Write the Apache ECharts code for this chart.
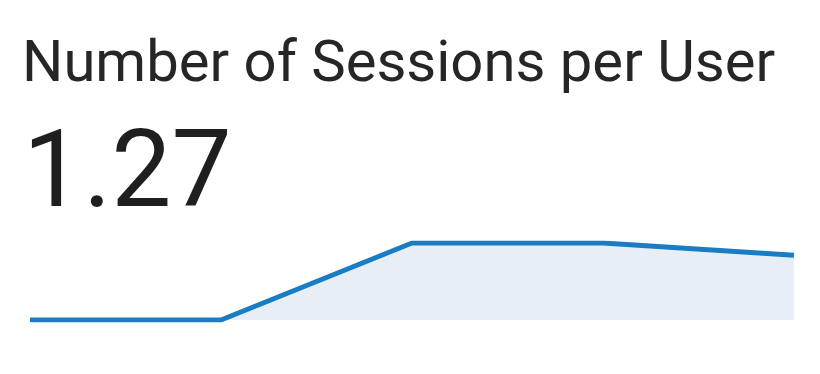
<!DOCTYPE html>
<html>
<head>
<meta charset="utf-8">
<script src="https://cdn.jsdelivr.net/npm/echarts@6/dist/echarts.min.js"></script>
<style>
html,body{margin:0;padding:0;background:#fff;}
#chart{width:820px;height:374px;}
</style>
</head>
<body>
<div id="chart"></div>
<script>
const titleText = "Number of Sessions per User";
const kpiValue = "1.27";
const periods = ["P1", "P2", "P3", "P4", "P5"];
const sessionsPerUser = [1.0, 1.0, 1.5, 1.5, 1.42];

const chart = echarts.init(document.getElementById('chart'));
chart.setOption({
  backgroundColor: '#ffffff',
  animation: false,
  title: [
    { text: titleText, left: 17, top: 32,
      textStyle: { fontFamily: 'Roboto', fontSize: 58, fontWeight: 'normal', color: '#262626' } },
    { text: kpiValue, left: 18, top: 121,
      textStyle: { fontFamily: 'Roboto', fontSize: 107, fontWeight: 'normal', color: '#1f1f1f' } }
  ],
  grid: { left: 30, right: 26, top: 243, bottom: 54 },
  xAxis: { type: 'category', data: periods, boundaryGap: false, show: false },
  yAxis: { type: 'value', min: 1.0, max: 1.5, show: false },
  series: [{
    type: 'line',
    data: sessionsPerUser,
    symbol: 'none',
    lineStyle: { width: 5, color: '#1a7dc4' },
    areaStyle: { color: '#e8eef6', opacity: 1 }
  }]
});
</script>
</body>
</html>
